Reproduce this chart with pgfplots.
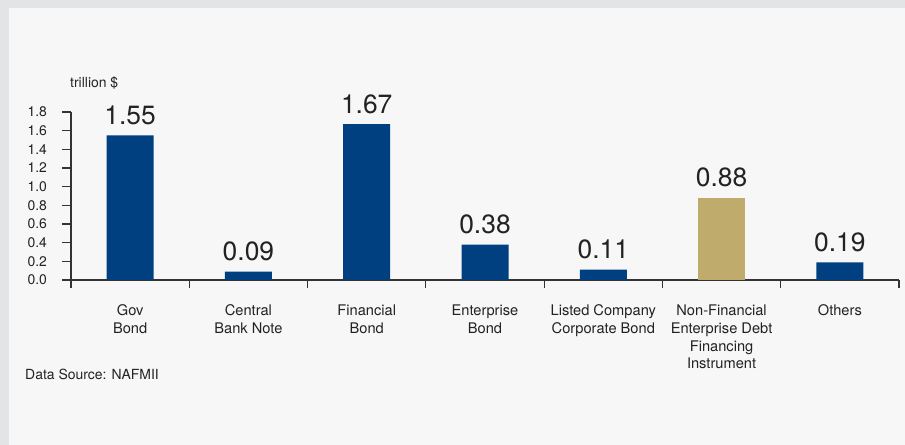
\documentclass[border=0pt]{standalone}
\usepackage{fontspec}
\setmainfont{TeX Gyre Heros}
\usepackage{pgfplots}
\pgfplotsset{compat=1.18}
\definecolor{bordergray}{HTML}{E3E4E6}
\definecolor{panel}{HTML}{F7F7F7}
\definecolor{barblue}{HTML}{004080}
\definecolor{bargold}{HTML}{BFAB6B}
\definecolor{txt}{HTML}{222222}
\definecolor{axline}{HTML}{333333}
\begin{document}
\begin{tikzpicture}[x=1bp,y=1bp]
\fill[bordergray] (0,0) rectangle (905,445);
\fill[panel] (9,0) rectangle (905,437);
\useasboundingbox (0,0) rectangle (905,445);
\node[anchor=base west, font=\fontsize{14}{17}\selectfont, text=txt, inner sep=0pt] at (70,357) {trillion \$};
\node[anchor=base west, font=\fontsize{14}{17}\selectfont, text=txt, inner sep=0pt] at (25,65) {Data Source: NAFMII};
\begin{axis}[
  at={(71bp,165bp)}, anchor=south west,
  scale only axis, width=828bp, height=168bp,
  xmin=-0.5, xmax=6.5, ymin=0, ymax=1.8,
  clip=false,
  axis x line*=bottom, axis y line*=left,
  axis line style={axline, line width=1.2bp},
  every tick/.style={axline, line width=1.2bp},
  tick align=outside,
  major tick length=8.5bp,
  xtick={-0.5,0.5,...,6.5},
  xticklabels={},
  extra x ticks={0,1,2,3,4,5,6},
  extra x tick labels={Gov\\Bond, Central\\Bank Note, Financial\\Bond, Enterprise\\Bond, Listed Company\\Corporate Bond, Non-Financial\\Enterprise Debt\\Financing\\Instrument, Others},
  extra x tick style={major tick length=0pt, tick style={draw=none},
    xticklabel style={align=center, font=\fontsize{14.7}{18}\selectfont, text=txt, anchor=north, yshift=-21bp}},
  ytick={0,0.2,...,1.8},
  yticklabel style={font=\fontsize{14}{17}\selectfont, text=txt, xshift=-12bp},
  /pgf/number format/.cd, fixed, fixed zerofill, precision=1, assume math mode=true,
  /pgfplots/.cd,
  nodes near coords,
  point meta=explicit symbolic,
  every node near coord/.append style={font=\fontsize{26.5}{31}\selectfont, text=txt, anchor=south, yshift=7bp},
]
\addplot[ybar, bar width=47bp, bar shift=0pt, fill=barblue, draw=none]
  coordinates {(0,1.55) [1.55] (1,0.09) [0.09] (2,1.67) [1.67] (3,0.38) [0.38] (4,0.11) [0.11] (6,0.19) [0.19]};
\addplot[ybar, bar width=47bp, bar shift=0pt, fill=bargold, draw=none]
  coordinates {(5,0.88) [0.88]};
\end{axis}
\end{tikzpicture}
\end{document}
